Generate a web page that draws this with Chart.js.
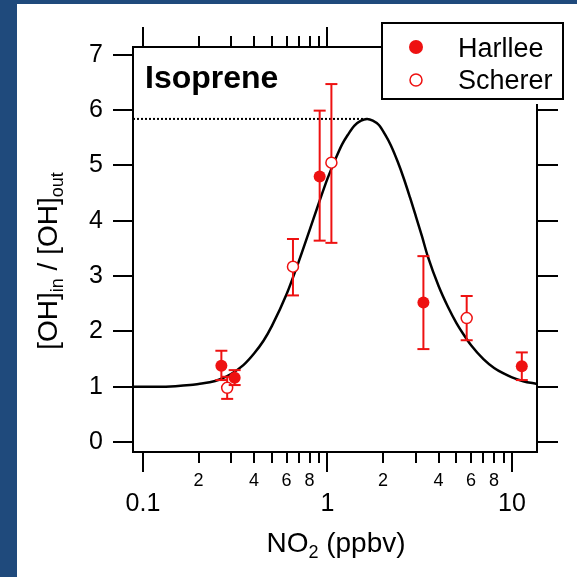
<!DOCTYPE html>
<html><head><meta charset="utf-8">
<script src="https://cdn.jsdelivr.net/npm/chart.js@4.4.1/dist/chart.umd.min.js"></script>
<style>html,body{margin:0;padding:0;background:#1f4a7c;}canvas{display:block;}</style>
</head><body>
<canvas id="c" width="577" height="577"></canvas>
<script>
// ---------- data ----------
const harlleeX    = [0.266, 0.314, 0.907, 3.31, 11.3];
const harlleeY    = [1.38, 1.16, 4.80, 2.52, 1.37];
const harlleeLow  = [1.12, 1.03, 3.64, 1.68, 1.12];
const harlleeHigh = [1.65, 1.30, 5.99, 3.36, 1.62];

const schererX    = [0.286, 0.65, 1.05, 5.68];
const schererY    = [0.98, 3.17, 5.05, 2.24];
const schererLow  = [0.78, 2.65, 3.60, 1.84];
const schererHigh = [1.18, 3.67, 6.47, 2.64];

const curveX = [0.0883, 0.1, 0.12, 0.15, 0.18, 0.2, 0.23, 0.26, 0.3, 0.35, 0.4, 0.45, 0.5, 0.6, 0.7, 0.8, 0.9, 1.0, 1.1, 1.2, 1.3, 1.4, 1.52, 1.64, 1.76, 1.9, 2.05, 2.2, 2.4, 2.6, 2.8, 3.0, 3.25, 3.5, 4.0, 4.5, 5.0, 5.5, 6.0, 7.0, 8.0, 9.0, 10, 11.5, 13.66];
const curveY = [1.00, 1.00, 1.00, 1.01, 1.03, 1.05, 1.08, 1.13, 1.23, 1.39, 1.60, 1.83, 2.10, 2.67, 3.27, 3.83, 4.33, 4.76, 5.10, 5.38, 5.57, 5.72, 5.81, 5.84, 5.81, 5.73, 5.56, 5.37, 5.07, 4.75, 4.42, 4.10, 3.72, 3.35, 2.82, 2.44, 2.15, 1.93, 1.75, 1.50, 1.34, 1.24, 1.17, 1.10, 1.05];

const peakX = [0.0883, 1.64];
const peakY = [5.84, 5.84];

const xTickValues = [0.1, 0.2, 0.3, 0.4, 0.5, 0.6, 0.7, 0.8, 0.9, 1, 2, 3, 4, 5, 6, 7, 8, 9, 10];
const xTickLabels = ['0.1', '2', '', '4', '', '6', '', '8', '', '1', '2', '', '4', '', '6', '', '8', '', '10'];
const xTickMajor  = [true, false, false, false, false, false, false, false, false, true, false, false, false, false, false, false, false, false, true];
const yTickValues = [0, 1, 2, 3, 4, 5, 6, 7];

const X_MIN = 0.0883, X_MAX = 13.66, Y_MIN = -0.18, Y_MAX = 7.14;

const seriesNames = ['Harllee', 'Scherer'];
const panelTitle = 'Isoprene';

// ---------- styling ----------
const FONT = '"Liberation Sans", Arial, Helvetica, sans-serif';
const RED = '#ee1111';

function pts(xs, ys) { return xs.map((x, i) => ({x: x, y: ys[i]})); }

function line(ctx, x1, y1, x2, y2) { ctx.beginPath(); ctx.moveTo(x1, y1); ctx.lineTo(x2, y2); ctx.stroke(); }

function richWidth(ctx, parts, big, small) {
  let w = 0;
  parts.forEach(p => { ctx.font = (p.sub ? small : big) + 'px ' + FONT; w += ctx.measureText(p.t).width; });
  return w;
}
function drawRich(ctx, parts, x, y, big, small, subShift) {
  let cx = x;
  parts.forEach(p => {
    ctx.font = (p.sub ? small : big) + 'px ' + FONT;
    ctx.fillText(p.t, cx, y + (p.sub ? subShift : 0));
    cx += ctx.measureText(p.t).width;
  });
}

const deco = {
  id: 'deco',
  beforeDraw(chart) {
    const ctx = chart.ctx;
    ctx.save();
    ctx.fillStyle = '#1f4a7c';
    ctx.fillRect(0, 0, chart.width, chart.height);
    ctx.fillStyle = '#ffffff';
    ctx.fillRect(17, 4, chart.width - 17, chart.height - 4);
    ctx.restore();
  },
  beforeDatasetDraw(chart, args) {
    const ds = chart.data.datasets[args.index];
    if (!ds.errLow) return;
    const ctx = chart.ctx, xs = chart.scales.x, ys = chart.scales.y;
    ctx.save();
    ctx.strokeStyle = RED;
    ctx.lineWidth = 2;
    ds.data.forEach((p, i) => {
      const px = xs.getPixelForValue(p.x);
      const yl = ys.getPixelForValue(ds.errLow[i]);
      const yh = ys.getPixelForValue(ds.errHigh[i]);
      line(ctx, px, yl, px, yh);
      line(ctx, px - 6, yl, px + 6, yl);
      line(ctx, px - 6, yh, px + 6, yh);
    });
    ctx.restore();
  },
  afterDatasetsDraw(chart) {
    const ctx = chart.ctx, xs = chart.scales.x, ys = chart.scales.y, a = chart.chartArea;
    ctx.save();
    ctx.strokeStyle = '#000';
    ctx.fillStyle = '#000';
    ctx.lineWidth = 2;
    // frame
    ctx.strokeRect(a.left, a.top, a.right - a.left, a.bottom - a.top);
    // x tick marks bottom and top (outward)
    xTickValues.forEach((v, i) => {
      const px = Math.round(xs.getPixelForValue(v));
      const len = xTickMajor[i] ? 20 : 11;
      line(ctx, px, a.bottom, px, a.bottom + len);
      line(ctx, px, a.top, px, a.top - len);
    });
    // right tick marks
    yTickValues.forEach(v => {
      const py = Math.round(ys.getPixelForValue(v));
      line(ctx, a.right, py, a.right + 21, py);
    });
    // panel title
    ctx.font = 'bold 32px ' + FONT;
    ctx.textBaseline = 'alphabetic';
    ctx.textAlign = 'left';
    ctx.fillText(panelTitle, a.left + 12, 88);
    // legend
    ctx.fillStyle = '#fff';
    ctx.fillRect(381, 22, 184, 82);
    ctx.strokeRect(382, 23, 181, 76);
    const ds0 = chart.data.datasets[0], ds1 = chart.data.datasets[1];
    ctx.beginPath(); ctx.arc(416, 47, 7, 0, Math.PI * 2);
    ctx.fillStyle = RED; ctx.fill();
    ctx.beginPath(); ctx.arc(416, 80, 6, 0, Math.PI * 2);
    ctx.fillStyle = '#fff'; ctx.fill();
    ctx.strokeStyle = RED; ctx.lineWidth = 1.5; ctx.stroke();
    ctx.fillStyle = '#000';
    ctx.font = '27px ' + FONT;
    ctx.fillText(ds0.label, 458, 57);
    ctx.fillText(ds1.label, 458, 89);
    // x axis title
    const xParts = [{t: 'NO'}, {t: '2', sub: true}, {t: ' (ppbv)'}];
    const xw = richWidth(ctx, xParts, 28, 18);
    drawRich(ctx, xParts, 336 - xw / 2, 552, 28, 18, 6);
    // y axis title (rotated)
    const yParts = [{t: '[OH]'}, {t: 'in', sub: true}, {t: ' / [OH]'}, {t: 'out', sub: true}];
    const yw = richWidth(ctx, yParts, 28, 18);
    ctx.save();
    ctx.translate(57, 261 + yw / 2);
    ctx.rotate(-Math.PI / 2);
    drawRich(ctx, yParts, 0, 0, 28, 18, 6);
    ctx.restore();
    ctx.restore();
  }
};

new Chart(document.getElementById('c'), {
  type: 'scatter',
  data: {
    datasets: [
      {label: seriesNames[0], data: pts(harlleeX, harlleeY), errLow: harlleeLow, errHigh: harlleeHigh,
       pointRadius: 6, pointBackgroundColor: RED, pointBorderColor: RED, pointBorderWidth: 0, showLine: false, order: 0},
      {label: seriesNames[1], data: pts(schererX, schererY), errLow: schererLow, errHigh: schererHigh,
       pointRadius: 5.5, pointBackgroundColor: '#fff', pointBorderColor: RED, pointBorderWidth: 1.5, showLine: false, order: 1},
      {label: 'fit', type: 'line', data: pts(curveX, curveY), borderColor: '#000', borderWidth: 2.5,
       pointRadius: 0, cubicInterpolationMode: 'monotone', fill: false, order: 2},
      {label: 'peak', type: 'line', data: pts(peakX, peakY), borderColor: '#000', borderWidth: 2,
       borderDash: [2, 2], pointRadius: 0, fill: false, order: 3}
    ]
  },
  options: {
    responsive: false,
    animation: false,
    devicePixelRatio: 1,
    layout: {padding: {left: 0, top: 47, right: 40, bottom: 0}},
    plugins: {legend: {display: false}, tooltip: {enabled: false}},
    scales: {
      x: {
        type: 'logarithmic', position: 'bottom', min: X_MIN, max: X_MAX,
        grid: {display: false}, border: {display: false},
        afterBuildTicks: s => { s.ticks = xTickValues.map(v => ({value: v})); },
        afterFit: s => { s.height = 125; },
        ticks: {
          autoSkip: false, maxRotation: 0, minRotation: 0, padding: 10, color: '#000',
          callback: (v, i) => xTickLabels[i],
          font: c => xTickMajor[c.index] ? {family: FONT, size: 25, lineHeight: 2.7} : {family: FONT, size: 18, lineHeight: 1.2}
        }
      },
      y: {
        type: 'linear', position: 'left', min: Y_MIN, max: Y_MAX,
        afterBuildTicks: s => { s.ticks = yTickValues.map(v => ({value: v})); },
        afterFit: s => { s.width = 133; },
        grid: {display: true, drawOnChartArea: false, drawTicks: true, tickLength: 20, lineWidth: 2, color: '#000', tickColor: '#000'},
        border: {display: false},
        ticks: {padding: 10, color: '#000', font: {family: FONT, size: 25}, callback: v => String(v)}
      }
    }
  },
  plugins: [deco]
});
</script>
</body></html>
